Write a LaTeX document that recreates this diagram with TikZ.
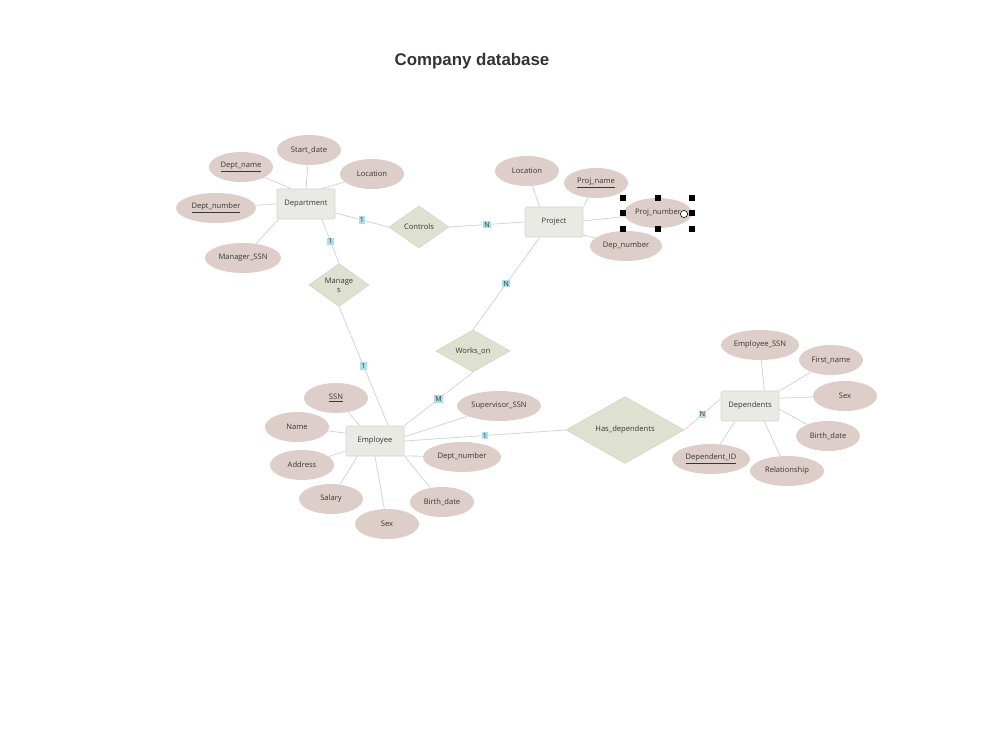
\documentclass[tikz,border=0pt]{standalone}
\usepackage{fontspec}
\setmainfont{Open Sans}
\newfontfamily\titlefont{Liberation Sans}
\usetikzlibrary{shapes.geometric}
\definecolor{attrfill}{RGB}{221,206,202}
\definecolor{entfill}{RGB}{234,234,229}
\definecolor{entline}{RGB}{214,214,206}
\definecolor{relfill}{RGB}{223,225,208}
\definecolor{relline}{RGB}{210,212,196}
\definecolor{edgegray}{RGB}{214,214,214}
\definecolor{cardfill}{RGB}{170,222,232}
\definecolor{inkgray}{RGB}{55,55,55}

\begin{document}
\begin{tikzpicture}[x=0.025cm, y=-0.025cm,
  every node/.style={text=inkgray, font=\fontsize{5.4}{6.4}\selectfont},
  entity/.style={draw=entline, fill=entfill, rounded corners=1pt, minimum width=1.45cm, minimum height=0.75cm, inner sep=0pt},
  attr/.style={ellipse, fill=attrfill, minimum width=1.6cm, minimum height=0.75cm, inner sep=0pt},
  rel/.style={diamond, draw=relline, fill=relfill, inner sep=0pt, align=center, minimum width=1.5cm, minimum height=1.05cm},
  card/.style={fill=cardfill, inner sep=0.9pt, font=\fontsize{5}{6}\selectfont},
  link/.style={edgegray, line width=0.6pt}]
  \useasboundingbox (0,0) rectangle (1004,753);
  \node[font=\titlefont\bfseries\fontsize{12}{14}\selectfont, text={rgb,255:red,51;green,51;blue,51}] (title) at (472,61) {Company database};

  % Department
  \node[entity] (dept) at (306,204) {Department};
  \node[attr] (dsdate) at (309,150) {Start\_date};
  \node[attr] (dname) at (241,167) {\underline{Dept\_name}};
  \node[attr] (dloc) at (372,174) {Location};
  \node[attr, minimum width=2cm] (dnum) at (216,208) {\underline{Dept\_number}};
  \node[attr, minimum width=1.9cm] (dmgr) at (243,258) {Manager\_SSN};
  \foreach \ang/\a in {90/dsdate,134/dname,44/dloc,180/dnum,-151/dmgr} \draw[link] (dept.\ang) -- (\a);

  % Project
  \node[entity] (proj) at (554,222) {Project};
  \node[attr] (ploc) at (527,171) {Location};
  \node[attr] (pname) at (596,183) {\underline{Proj\_name}};
  \node[attr, minimum width=1.7cm] (pnum) at (658,213) {Proj\_number};
  \node[attr, minimum width=1.8cm] (pdep) at (626,246) {Dep\_number};
  \foreach \ang/\a in {133/ploc,27/pname,2/pnum,-24/pdep} \draw[link] (proj.\ang) -- (\a);
  % selection handles
  \foreach \hx/\hy in {623/198,658/198,692/198,623/213,692/213,623/229,658/229,692/229}
    \fill[black] (\hx-3.3,\hy-3.3) rectangle (\hx+3.3,\hy+3.3);
  \draw[black, fill=white, line width=0.4pt] (684,214) circle (0.09cm);

  % Employee
  \node[entity] (emp) at (375,441) {Employee};
  \node[attr] (essn) at (336,398) {\underline{SSN}};
  \node[attr] (ename) at (297,427) {Name};
  \node[attr] (eaddr) at (302,465) {Address};
  \node[attr] (esal) at (331,499) {Salary};
  \node[attr] (esex) at (387,524) {Sex};
  \node[attr] (ebirth) at (442,502) {Birth\_date};
  \node[attr, minimum width=1.95cm] (edept) at (462,457) {Dept\_number};
  \node[attr, minimum width=2.1cm] (esup) at (499,406) {Supervisor\_SSN};
  \foreach \ang/\a in {135/essn,165/ename,-161/eaddr,-139/esal,-90/esex,-27/ebirth,-27/edept,8/esup} \draw[link] (emp.\ang) -- (\a);

  % Dependents
  \node[entity] (depn) at (750,406) {Dependents};
  \node[attr, minimum width=1.95cm] (dessn) at (760,345) {Employee\_SSN};
  \node[attr] (dfirst) at (831,360) {First\_name};
  \node[attr] (dsex) at (845,396) {Sex};
  \node[attr] (dbirth) at (828,436) {Birth\_date};
  \node[attr, minimum width=1.85cm] (drel) at (787,471) {Relationship};
  \node[attr, minimum width=1.95cm] (did) at (711,459) {\underline{Dependent\_ID}};
  \foreach \ang/\a in {47/dessn,27/dfirst,15/dsex,-6/dbirth,-47/drel,-135/did} \draw[link] (depn.\ang) -- (\a);

  % Relationships
  \node[rel] (controls) at (419,227) {Controls};
  \node[rel] (manages) at (339,285) {Manage\\s};
  \node[rel, minimum width=1.85cm] (works) at (473,351) {Works\_on};
  \node[rel, minimum width=2.95cm, minimum height=1.5cm] (hasdep) at (625,430) {Has\_dependents};

  \draw[link] (dept.-17) -- node[card] {1} (controls.west);
  \draw[link] (controls.east) -- node[card] {N} (proj.west);
  \draw[link] (dept.-44) -- node[card] {1} (manages.north);
  \draw[link] (manages.south) -- node[card] {1} (emp.49);
  \draw[link] (proj.-133) -- node[card] {N} (works.north);
  \draw[link] (works.south) -- node[card] {M} (emp.north east);
  \draw[link] (emp.east) -- node[card] {1} (hasdep.west);
  \draw[link] (hasdep.east) -- node[card] {N} (depn.166);
\end{tikzpicture}
\end{document}
